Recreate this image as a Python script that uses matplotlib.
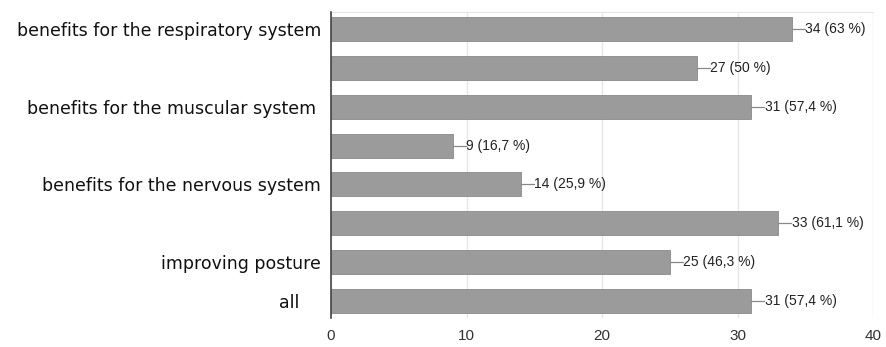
import matplotlib
matplotlib.use("Agg")
import matplotlib.pyplot as plt

categories = ["benefits for the respiratory system", "", "benefits for the muscular system ", "",
              "benefits for the nervous system", "", "improving posture", "all    "]
counts = [34, 27, 31, 9, 14, 33, 25, 31]
percents = ["63", "50", "57,4", "16,7", "25,9", "61,1", "46,3", "57,4"]
xticks = [0, 10, 20, 30, 40]

W, H = 886, 347
fig = plt.figure(figsize=(W / 100, H / 100), dpi=100)
ax = fig.add_axes([331 / W, (H - 318) / H, 542 / W, 306 / H])

y = list(range(len(categories)))
ax.barh(y, counts, height=0.62, color="#9b9b9b", edgecolor="#8a8a8a", linewidth=0.6, zorder=3)

for i, (c, p) in enumerate(zip(counts, percents)):
    ax.plot([c, c + 0.95], [i, i], color="#888888", lw=0.9, zorder=3)
    ax.text(c + 1.0, i, f"{c} ({p} %)", va="center", ha="left", fontsize=10,
            color="#222222", family="Liberation Sans")

ax.set_xlim(0, 40)
ax.set_ylim(len(categories) - 0.55, -0.45)
ax.set_xticks(xticks)
ax.set_xticklabels([str(t) for t in xticks], fontsize=11, color="#333333", family="Liberation Sans")
ax.set_yticks(y)
ax.set_yticklabels(categories, fontsize=12.5, color="#111111", family="DejaVu Sans")
ax.tick_params(axis="both", length=0)
ax.tick_params(axis="y", pad=7)
ax.tick_params(axis="x", pad=8)
ax.grid(axis="x", color="#e6e6e6", lw=1, zorder=0)
for s in ["right", "bottom"]:
    ax.spines[s].set_visible(False)
ax.spines["top"].set_color("#e6e6e6")
ax.spines["left"].set_color("#444444")
ax.spines["left"].set_linewidth(1.2)
ax.spines["left"].set_zorder(4)

fig.savefig("out.png", dpi=100)
